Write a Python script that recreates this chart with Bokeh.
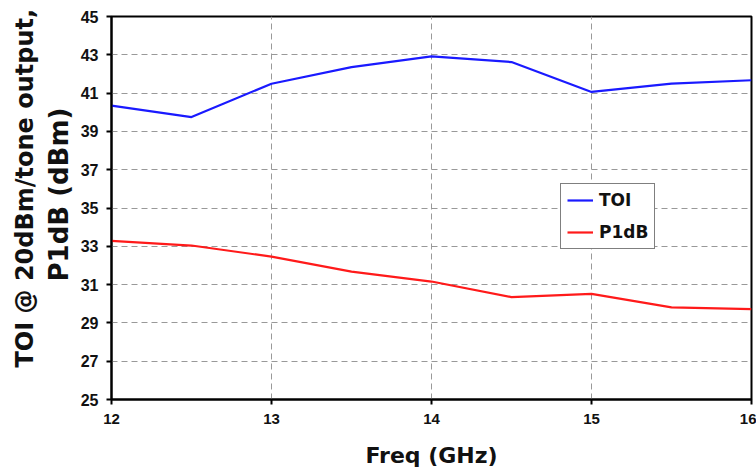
from bokeh.plotting import figure
from bokeh.models import Legend, LegendItem, FixedTicker, Title
from bokeh.embed import file_html
from bokeh.resources import INLINE

freq = [12.0, 12.5, 13.0, 13.5, 14.0, 14.5, 15.0, 15.5, 16.0]
toi = [40.35, 39.75, 41.49, 42.36, 42.92, 42.62, 41.06, 41.49, 41.67]
p1db = [33.28, 33.04, 32.46, 31.68, 31.16, 30.35, 30.52, 29.81, 29.72]
x_ticks = [12, 13, 14, 15, 16]
y_ticks = [25, 27, 29, 31, 33, 35, 37, 39, 41, 43, 45]

TICK_FONT = "Liberation Sans"
LABEL_FONT = "DejaVu Sans"

p = figure(width=756, height=470, output_backend="svg", toolbar_location=None,
           x_range=(12, 16), y_range=(25, 45),
           min_border_left=111, min_border_right=5, min_border_top=16, min_border_bottom=70)
p.background_fill_color = "white"
p.border_fill_color = "white"
p.outline_line_color = "black"
p.outline_line_width = 2

r1 = p.line(freq, toi, line_color="#1a1aff", line_width=2.2)
r2 = p.line(freq, p1db, line_color="#ff1a1a", line_width=2.2)

p.xaxis.ticker = FixedTicker(ticks=x_ticks)
p.yaxis.ticker = FixedTicker(ticks=y_ticks)
for ax in (p.xaxis[0], p.yaxis[0]):
    ax.axis_line_color = "black"
    ax.axis_line_width = 2
    ax.major_tick_line_color = "black"
    ax.major_tick_line_width = 2
    ax.major_tick_out = 5
    ax.major_tick_in = 0
    ax.minor_tick_line_color = None
    ax.major_label_text_font = TICK_FONT
    ax.major_label_text_font_style = "bold"
    ax.major_label_text_color = "#111111"
    ax.axis_label_text_font = LABEL_FONT
    ax.axis_label_text_font_style = "bold"
    ax.axis_label_text_color = "#111111"

p.xaxis.major_label_text_font_size = "15px"
p.yaxis.major_label_text_font_size = "16px"
p.xaxis.axis_label = "Freq (GHz)"
p.xaxis.axis_label_text_font_size = "22px"
p.xaxis.axis_label_standoff = 16
p.xaxis.major_label_standoff = 9
p.yaxis.major_label_standoff = 8

t2 = Title(text="P1dB (dBm)", align="left", offset=118,
           text_font=LABEL_FONT, text_font_style="bold", text_font_size="26px",
           text_color="#111111", standoff=8)
t1 = Title(text="TOI @ 20dBm/tone output,", align="left", offset=32,
           text_font=LABEL_FONT, text_font_style="bold", text_font_size="24px",
           text_color="#111111", standoff=-2)
p.add_layout(t2, "left")
p.add_layout(t1, "left")

for g in (p.xgrid[0], p.ygrid[0]):
    g.grid_line_color = "#999999"
    g.grid_line_dash = "6 4"
    g.grid_line_width = 1
p.xgrid.ticker = FixedTicker(ticks=x_ticks)
p.ygrid.ticker = FixedTicker(ticks=y_ticks)

legend = Legend(items=[LegendItem(label="TOI", renderers=[r1]),
                       LegendItem(label="P1dB", renderers=[r2])],
                location=(449, 150))
legend.border_line_color = "black"
legend.border_line_width = 1
legend.background_fill_color = "white"
legend.background_fill_alpha = 1
legend.label_text_font = LABEL_FONT
legend.label_text_font_style = "bold"
legend.label_text_font_size = "17px"
legend.label_text_color = "#111111"
legend.glyph_width = 26
legend.glyph_height = 20
legend.label_height = 20
legend.label_standoff = 6
legend.spacing = 12
legend.padding = 6
legend.margin = 0
p.add_layout(legend, "center")

open("out.html", "w").write(file_html(p, INLINE))
